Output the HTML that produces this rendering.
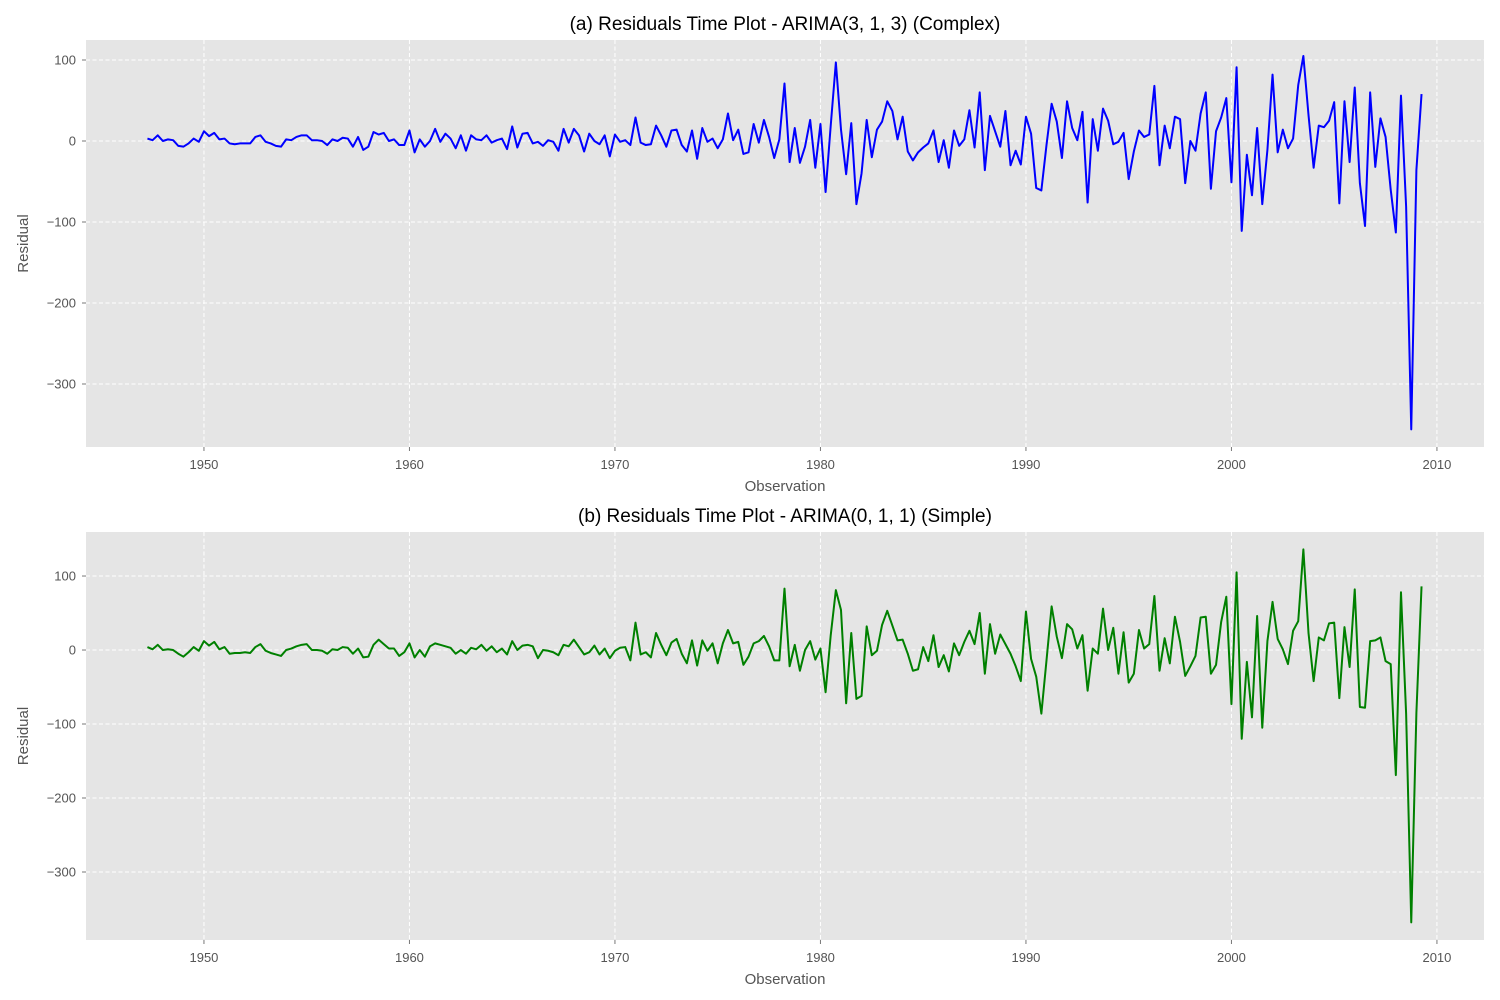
<!DOCTYPE html>
<html><head><meta charset="utf-8">
<style>
html,body{margin:0;padding:0;background:#fff;}
svg{display:block;font-family:"Liberation Sans","DejaVu Sans",sans-serif;}
</style></head>
<body>
<svg id="fig" width="1500" height="1000" viewBox="0 0 1500 1000"></svg>
<script>
const startYear = 1947.25;
const stepYear = 0.25;
const xTicks = [1950, 1960, 1970, 1980, 1990, 2000, 2010];
const yTicks = [100, 0, -100, -200, -300];
const complexResiduals = [3,1,7,0,2,1,-6,-7,-3,3,-1,12,6,10,2,3,-3,-4,-3,-3,-3,5,7,-1,-3,-6,-7,2,1,5,7,7,1,1,0,-5,2,0,4,3,-7,5,-11,-7,11,8,10,0,2,-5,-5,13,-14,2,-7,0,15,-1,9,3,-9,7,-12,
7,2,1,7,-2,1,3,-10,18,-8,9,10,-3,-1,-6,1,-1,-12,15,-2,15,7,-13,9,0,-4,7,-19,8,-1,1,-5,29,-2,-5,-4,19,7,-7,13,14,-5,-13,13,-22,16,-1,3,-9,2,34,1,14,-16,-14,21,-2,26,5,-21,2,71,-26,16,
-27,-7,26,-33,21,-63,19,97,14,-41,22,-78,-40,26,-20,14,24,49,37,2,30,-13,-24,-14,-8,-3,13,-26,1,-33,13,-6,2,38,-8,60,-36,31,12,-7,37,-30,-12,-29,30,9,-58,-61,-5,46,24,-21,49,16,1,36,-76,27,-12,40,25,-4,-1,10,-47,-13,13,
5,8,68,-30,19,-9,30,27,-52,0,-12,34,60,-59,12,29,53,-51,91,-111,-17,-67,16,-78,-11,82,-14,14,-9,3,69,105,32,-33,19,17,25,48,-77,49,-26,66,-52,-105,60,-32,28,5,-60,-113,56,-81,-356,-36,58];
const simpleResiduals = [4,1,7,0,1,0,-5,-9,-3,4,-1,12,6,11,1,4,-5,-4,-4,-3,-4,4,8,-1,-4,-6,-8,0,2,5,7,8,0,0,-1,-5,1,0,4,3,-5,2,-10,-9,7,14,8,2,2,-8,-3,9,-10,0,-9,5,9,7,5,3,-5,0,-5,
3,1,7,-1,5,-3,2,-6,12,0,6,7,5,-11,0,-1,-3,-7,7,5,14,4,-6,-3,6,-6,2,-11,-1,3,4,-14,37,-6,-3,-10,23,7,-7,10,15,-5,-18,13,-21,13,-1,9,-18,9,27,9,11,-20,-9,9,12,19,5,-14,-14,83,-22,7,
-28,0,12,-13,2,-57,20,81,54,-72,23,-66,-62,32,-7,-1,34,53,33,13,14,-5,-28,-26,4,-15,20,-23,-7,-29,9,-7,11,26,8,50,-32,35,-5,21,8,-5,-22,-42,52,-12,-36,-86,-14,59,18,-11,35,28,2,20,-55,2,-5,56,0,30,-32,24,-44,-32,27,
2,8,73,-28,16,-18,45,11,-35,-22,-8,44,45,-32,-20,38,72,-73,105,-120,-16,-91,46,-105,12,65,15,1,-19,26,39,136,23,-42,17,13,36,37,-65,31,-23,82,-77,-78,12,13,17,-15,-19,-169,78,-86,-368,-85,86];

const NS = "http://www.w3.org/2000/svg";
const fig = document.getElementById('fig');
function mk(tag, attrs, parent){ const e=document.createElementNS(NS,tag); for(const k in attrs) e.setAttribute(k,attrs[k]); (parent||fig).appendChild(e); return e; }

function drawPanel(cfg){
  const g = mk('g',{});
  
  
  const L=86,R=1484,T=cfg.top,B=cfg.bottom;
  const xMin=1944.26, xMax=2012.29;
  const xs = v => L + (v-xMin)/(xMax-xMin)*(R-L);
  const ys = v => T + (cfg.yMax-v)/(cfg.yMax-cfg.yMin)*(B-T);
  const bg = mk('rect',{x:L,y:T,width:R-L,height:B-T,fill:'#E5E5E5'},g);
  
  
  xTicks.forEach(t=>{
    const x=xs(t);
    const gl=mk('line',{x1:x,x2:x,y1:T,y2:B,stroke:'#fff','stroke-width':1,'stroke-dasharray':'4,2.5'},g);
    
    
    mk('line',{x1:x,x2:x,y1:B,y2:B+4,stroke:'#777','stroke-width':1},g);
    const tx=mk('text',{x:x,y:B+22,'text-anchor':'middle','font-size':13,fill:'#555'},g);
    tx.textContent=t;
    
    
  });
  yTicks.forEach(t=>{
    const y=ys(t);
    const gl=mk('line',{x1:L,x2:R,y1:y,y2:y,stroke:'#fff','stroke-width':1,'stroke-dasharray':'4,2.5'},g);
    
    
    mk('line',{x1:L-4,x2:L,y1:y,y2:y,stroke:'#777','stroke-width':1},g);
    const tx=mk('text',{x:L-10,y:y+4.5,'text-anchor':'end','font-size':13,fill:'#555'},g);
    tx.textContent=(t<0?'\u2212'+(-t):String(t));
    
    
  });
  const pts = cfg.data.map((v,i)=>xs(startYear+i*stepYear).toFixed(2)+','+ys(v).toFixed(2)).join(' ');
  const line=mk('polyline',{points:pts,fill:'none',stroke:cfg.color,'stroke-width':2,'stroke-linejoin':'round'},g);
  
  
  const title=mk('text',{x:(L+R)/2,y:T-10,'text-anchor':'middle','font-size':19,fill:'#000'},g);
  title.textContent=cfg.title;
  
  
  const xl=mk('text',{x:(L+R)/2,y:B+44,'text-anchor':'middle','font-size':15,fill:'#555'},g);
  xl.textContent='Observation';
  
  
  const cy=(T+B)/2;
  const yl=mk('text',{x:28,y:cy,'text-anchor':'middle','font-size':15,fill:'#555',transform:'rotate(-90 28 '+cy+')'},g);
  yl.textContent='Residual';
  
  
}

drawPanel({name:'complex-model-panel',seriesName:'complex-residual-line',top:40,bottom:447,yMax:124.7,yMin:-377.8,data:complexResiduals,color:'#0000FF',title:'(a) Residuals Time Plot - ARIMA(3, 1, 3) (Complex)'});
drawPanel({name:'simple-model-panel',seriesName:'simple-residual-line',top:532,bottom:940,yMax:159.5,yMin:-391.9,data:simpleResiduals,color:'#008000',title:'(b) Residuals Time Plot - ARIMA(0, 1, 1) (Simple)'});
</script>
</body></html>
